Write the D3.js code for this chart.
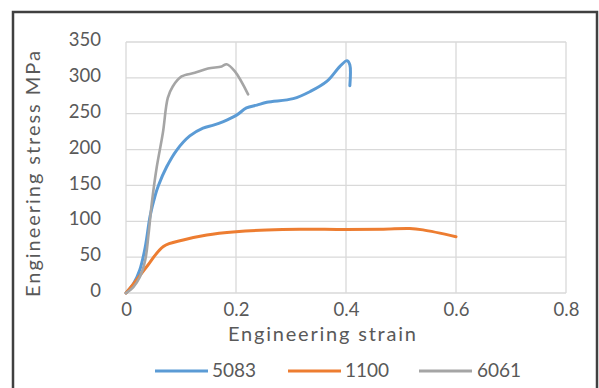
<!DOCTYPE html>
<html>
<head>
<meta charset="utf-8">
<script src="https://cdn.jsdelivr.net/npm/d3@7"></script>
<style>
  html, body { margin: 0; padding: 0; background: #fff; }
  svg { display: block; }
  text { font-family: Lato, "Open Sans", sans-serif; fill: #595959; }
</style>
</head>
<body>
<svg id="chart" width="599" height="388"></svg>
<script>
// Tensile test curves: engineering strain vs engineering stress (MPa)
const strain5083 = [0, 0.013, 0.025, 0.035, 0.044, 0.053, 0.059, 0.074, 0.092, 0.116, 0.14, 0.159, 0.177, 0.201, 0.219, 0.238, 0.256, 0.304, 0.335, 0.365, 0.389, 0.402, 0.407, 0.407];
const stress5083 = [0, 12, 32, 64, 108, 136, 150, 176, 199, 219, 230, 234, 239, 248, 258, 262, 266, 271, 281, 295, 316, 324, 318, 289];

const strain1100 = [0, 0.02, 0.04, 0.068, 0.104, 0.147, 0.2, 0.256, 0.316, 0.4, 0.468, 0.516, 0.54, 0.6];
const stress1100 = [0, 19, 39, 65, 74, 81, 85.5, 88, 89, 88.5, 89, 90, 88, 78.5];

const strain6061 = [0, 0.013, 0.025, 0.035, 0.041, 0.047, 0.056, 0.067, 0.076, 0.085, 0.101, 0.125, 0.149, 0.174, 0.183, 0.198, 0.222];
const stress6061 = [0, 8, 22, 46, 82, 126, 176, 223, 272, 288, 302, 307, 313, 316, 319, 309, 277];

const seriesNames = ["5083", "1100", "6061"];
const seriesColors = ["#5B9BD5", "#ED7D31", "#A5A5A5"];

const xTicks = [0, 0.2, 0.4, 0.6, 0.8];
const yTicks = [0, 50, 100, 150, 200, 250, 300, 350];

const xTitle = "Engineering strain";
const yTitle = "Engineering stress MPa";

const svg = d3.select("#chart");

// chart frame
svg.append("rect")
  .attr("x", 13).attr("y", 12)
  .attr("width", 584).attr("height", 400)
  .attr("fill", "none").attr("stroke", "#404040").attr("stroke-width", 2.5);

const plot = { left: 126, right: 566, top: 42, bottom: 293 };
const x = d3.scaleLinear().domain([0, 0.8]).range([plot.left, plot.right]);
const y = d3.scaleLinear().domain([0, 350]).range([plot.bottom, plot.top]);

// gridlines
const grid = svg.append("g").attr("stroke", "#d9d9d9").attr("stroke-width", 1.3);
grid.selectAll("line.h").data(yTicks).join("line")
  .attr("x1", plot.left).attr("x2", plot.right)
  .attr("y1", d => y(d)).attr("y2", d => y(d));
grid.selectAll("line.v").data(xTicks).join("line")
  .attr("y1", plot.top).attr("y2", plot.bottom)
  .attr("x1", d => x(d)).attr("x2", d => x(d));

// y axis labels
const yAxis = svg.append("g")
  .attr("transform", `translate(${plot.left - 25},0)`)
  .call(d3.axisLeft(y).tickValues(yTicks).tickSize(0).tickPadding(0).tickFormat(d3.format("d")));
yAxis.select(".domain").remove();
yAxis.selectAll("text").attr("font-size", 18.5).attr("fill", "#595959")
  .attr("font-family", "Lato, sans-serif").attr("dy", "0.2em");

// x axis labels
const xAxis = svg.append("g")
  .attr("transform", `translate(0,${plot.bottom + 10})`)
  .call(d3.axisBottom(x).tickValues(xTicks).tickSize(0).tickPadding(0).tickFormat(d => d === 0 ? "0" : d3.format(".1f")(d)));
xAxis.select(".domain").remove();
xAxis.selectAll("text").attr("font-size", 18.5).attr("fill", "#595959")
  .attr("font-family", "Lato, sans-serif").attr("dy", "0.72em");

// axis titles
svg.append("text")
  .attr("x", 322).attr("y", 341)
  .attr("text-anchor", "middle").attr("font-size", 20)
  .attr("textLength", 188).attr("lengthAdjust", "spacing")
  .text(xTitle);
svg.append("text")
  .attr("transform", "translate(40,174) rotate(-90)")
  .attr("text-anchor", "middle").attr("font-size", 20)
  .attr("textLength", 246).attr("lengthAdjust", "spacing")
  .text(yTitle);

// series lines
const line = d3.line()
  .x(d => x(d[0])).y(d => y(d[1]))
  .curve(d3.curveCatmullRom.alpha(0.5));

const series = [
  d3.zip(strain5083, stress5083),
  d3.zip(strain1100, stress1100),
  d3.zip(strain6061, stress6061)
];
const widths = [3, 3, 2.6];

series.forEach((pts, i) => {
  svg.append("path")
    .datum(pts)
    .attr("d", line)
    .attr("fill", "none")
    .attr("stroke", seriesColors[i])
    .attr("stroke-width", widths[i])
    .attr("stroke-linejoin", "round")
    .attr("stroke-linecap", "round");
});

// legend
const legendItems = [
  { lx: 155, tx: 212 },
  { lx: 288, tx: 345 },
  { lx: 419, tx: 477 }
];
const legend = svg.append("g");
seriesNames.forEach((name, i) => {
  const it = legendItems[i];
  legend.append("line")
    .attr("x1", it.lx).attr("x2", it.lx + 53)
    .attr("y1", 371).attr("y2", 371)
    .attr("stroke", seriesColors[i]).attr("stroke-width", 3);
  legend.append("text")
    .attr("x", it.tx).attr("y", 377)
    .attr("font-size", 19)
    .text(name);
});
</script>
</body>
</html>
